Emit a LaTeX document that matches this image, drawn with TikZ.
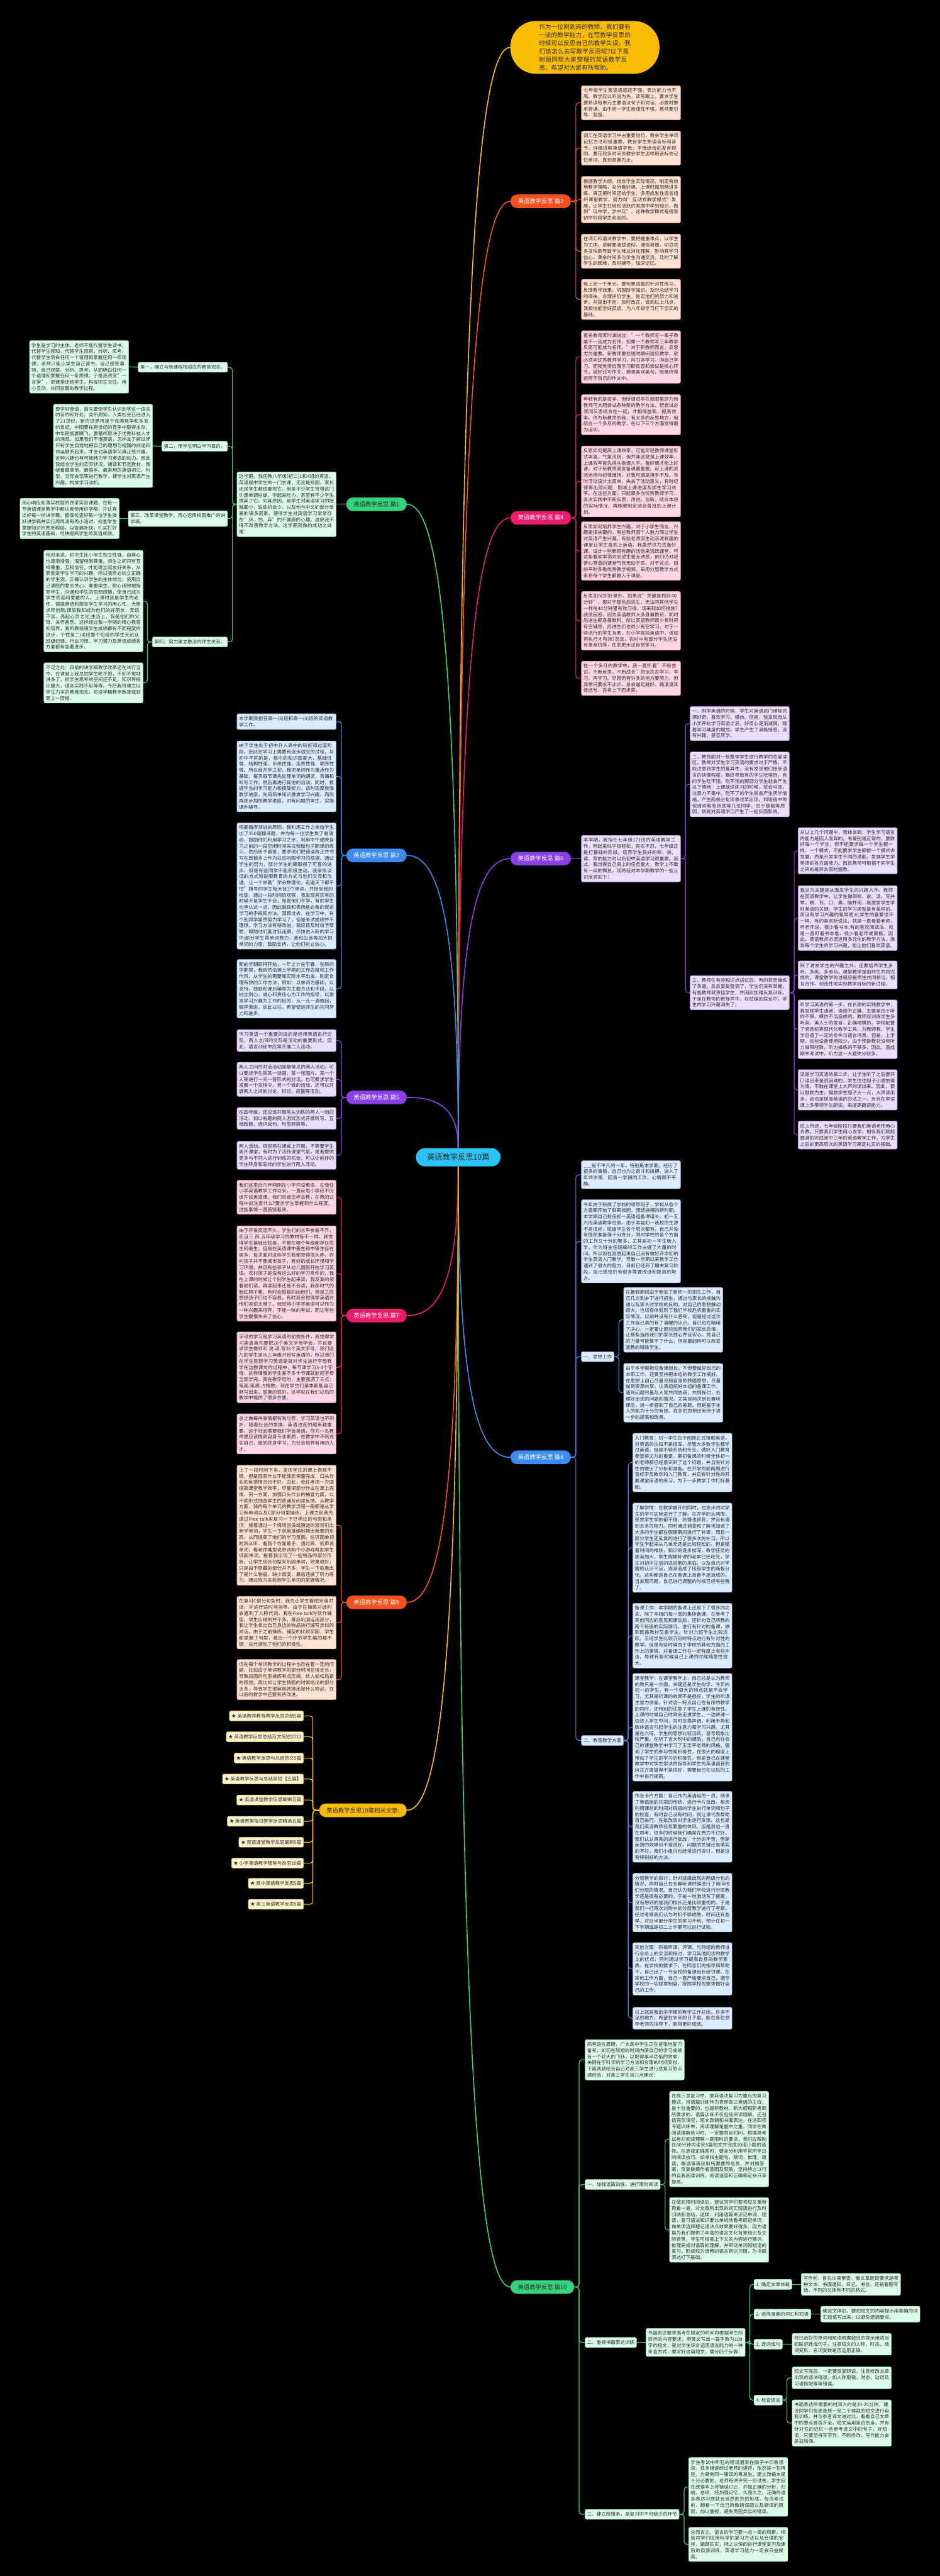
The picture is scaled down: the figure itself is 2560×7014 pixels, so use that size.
\documentclass[tikz,border=0pt]{standalone}
\usepackage{fontspec}
\setmainfont{Noto Sans CJK SC}
\usetikzlibrary{calc}
\XeTeXlinebreaklocale "zh"
\XeTeXlinebreakskip=0pt plus 1pt
\definecolor{cO}{HTML}{F4511E}
\definecolor{cP}{HTML}{EC1C6A}
\definecolor{cV}{HTML}{8A3FE8}
\definecolor{cB}{HTML}{3B8BF0}
\definecolor{cG}{HTML}{35D27E}
\definecolor{cY}{HTML}{FBBC05}
\definecolor{cC}{HTML}{2BC3F3}
\definecolor{fO}{HTML}{FFE2D4}\definecolor{dO}{HTML}{F3A27E}
\definecolor{fP}{HTML}{FFD6E6}\definecolor{dP}{HTML}{F08CB5}
\definecolor{fV}{HTML}{E9DFFC}\definecolor{dV}{HTML}{B79AF0}
\definecolor{fB}{HTML}{DCEBFE}\definecolor{dB}{HTML}{92BDF5}
\definecolor{fG}{HTML}{DDFBEA}\definecolor{dG}{HTML}{8FE6B5}
\definecolor{fY}{HTML}{FFF4CF}\definecolor{dY}{HTML}{F2CD5C}
\definecolor{txt}{HTML}{2B2B2B}
\newcommand\boxfont{\fontsize{6.45pt}{8.35pt}\selectfont}
\newcommand\brfont{\fontsize{8pt}{9.6pt}\selectfont}
\newcommand\brlink[3]{\draw[main=#1] (#2) .. controls ($(#2)!0.6!(#2-|#3)$) and ($(#3)!0.8!(#3|-#2)$) .. (#3);}
\tikzset{
  bx/.style={rounded corners=2pt, inner xsep=2.75pt, inner ysep=3.5pt, text width=129.5pt, align=left, font=\boxfont, text=txt, line width=0.5pt, anchor=north west},
  bO/.style={bx, fill=fO, draw=dO}, bP/.style={bx, fill=fP, draw=dP},
  bV/.style={bx, fill=fV, draw=dV}, bB/.style={bx, fill=fB, draw=dB},
  bG/.style={bx, fill=fG, draw=dG},
  lb/.style={rounded corners=2pt, inner xsep=2.75pt, inner ysep=3.5pt, minimum height=13.5pt, font=\boxfont, text=txt, line width=0.5pt, anchor=west},
  lB/.style={lb, fill=fB, draw=dB}, lG/.style={lb, fill=fG, draw=dG},
  lY/.style={lb, fill=fY, draw=dY, anchor=east},
  brn/.style={rounded corners=9pt, minimum height=18.5pt, inner xsep=10pt, font=\brfont, text=white},
  link/.style={draw=#1, line width=1pt, rounded corners=4pt},
  main/.style={draw=#1, line width=1.4pt},
}
\begin{document}
\begin{tikzpicture}[x=0.5pt,y=-0.5pt]
\path[fill=black,use as bounding box] (0,0) rectangle (2560,7014);

% centre
\node[fill=cC, rounded corners=12.5pt, minimum height=25pt, inner xsep=15pt, font=\fontsize{10.5pt}{12pt}\selectfont, text=txt] (cen) at (1248,3151) {英语教学反思10篇};

% intro bubble
\node[fill=cY, rounded corners=35pt, text width=125pt, inner xsep=39pt, inner ysep=4pt, align=left, font=\fontsize{8.3pt}{11.2pt}\selectfont, text=txt] (intro) at (1593,129) {作为一位刚到岗的教师，我们要有一流的教学能力，在写教学反思的时候可以反思自己的教学失误，我们该怎么去写教学反思呢?以下是树图网帮大家整理的英语教学反思，希望对大家有所帮助。};

% branch nodes
\node[brn, fill=cO, anchor=west] (p2) at (1390,548) {英语教学反思 篇2};
\node[brn, fill=cP, anchor=west] (p4) at (1390,1410) {英语教学反思 篇4};
\node[brn, fill=cV, anchor=west] (p6) at (1390,2338) {英语教学反思 篇6};
\node[brn, fill=cB, anchor=west] (p8) at (1390,3968) {英语教学反思 篇8};
\node[brn, fill=cG, anchor=west, text=txt] (p10) at (1390,6227) {英语教学反思 篇10};
\node[brn, fill=cG, anchor=east, text=txt] (p1) at (1108,1373) {英语教学反思 篇1};
\node[brn, fill=cB, anchor=east] (p3) at (1108,2329) {英语教学反思 篇3};
\node[brn, fill=cV, anchor=east] (p5) at (1108,2988) {英语教学反思 篇5};
\node[brn, fill=cP, anchor=east] (p7) at (1108,3582) {英语教学反思 篇7};
\node[brn, fill=cO, anchor=east] (p9) at (1108,4363) {英语教学反思 篇9};
\node[brn, fill=cY, anchor=east, text=txt] (rel) at (1108,4929) {英语教学反思10篇相关文章:};

% main connectors
\brlink{cY}{intro.west}{cen.north}
\brlink{cO}{p2.west}{cen.north}
\brlink{cP}{p4.west}{cen.north}
\brlink{cV}{p6.west}{cen.north}
\brlink{cG}{p1.east}{cen.north}
\brlink{cB}{p3.east}{cen.north}
\brlink{cV}{p5.east}{cen.north}
\brlink{cB}{p8.west}{cen.south}
\brlink{cG}{p10.west}{cen.south}
\brlink{cP}{p7.east}{cen.south}
\brlink{cO}{p9.east}{cen.south}
\brlink{cY}{rel.east}{cen.south}

% ---------- 篇2
\node[bO] (b2a) at (1583,233) {七年级学生英语语感还不强，表达能力也不高。教学应以听说为先，读写跟上。要求学生要熟读每单元主要语法句子和对话，必要时要求背诵。由于初一学生自律性不强，教师要引导、监督。};
\node[bO] (b2b) at (1583,356) {词汇在英语学习中占重要地位，教会学生单词记忆方法积极重要，教会学生熟读音标和音节，详细讲解英语字母、字母组合的发音规则，要花较多时间去教会学生怎样用音标去记忆单词，直到掌握为止。};
\node[bO] (b2c) at (1583,480) {根据教学大纲，结合学生实际情况，制定有效地教学策略，充分备好课。上课时做到精讲多练，真正把时间还给学生，多用启发性语言组织课堂教学，努力向"互动式教学模式"发展，让学生在轻松活跃的氛围中学到知识，做到"玩中学，学中玩"，这种教学模式是很受初中阶段学生欢迎的。};
\node[bO] (b2d) at (1583,637) {在词汇和语法教学中，要把握重难点，以学生为主体。讲解要清楚透彻，通俗易懂，切忌贪多贪快而导致学生难以消化理解，影响其学习信心。课余时间多与学生沟通交流，及时了解学生的困难，及时辅导，加深记忆。};
\node[bO] (b2e) at (1583,760) {每上完一个单元，要布置适量的针对性练习，反馈教学效果，巩固所学知识。及时总结学习的得失，合理评价学生，肯定他们的努力和进步，并提出不足，及时改正。做到以上几点，我相信能学好英语，为八年级学习打下坚实的基础。};
\foreach \c in {b2a,b2b,b2c,b2d,b2e} \draw[link=cO] (p2.east) -- ++(13,0) |- (\c.west);

% ---------- 篇4
\node[bP] (b4a) at (1583,900) {著名教育家叶澜说过："一个教师写一辈子教案不一定成为名师，如果一个教师写三年教学反思可能成为名师。"对于新教师而言，反思尤为重要。新教师要在短时期间适应教学，就必须向优秀教师学习，向书本学习，向自己学习。而我觉得自我学习即反思和尝试是核心环节，就好比写作文，摘录美词美句，但最终得运用于自己的作文中。};
\node[bP] (b4b) at (1583,1074) {年轻有的是资本，但所谓资本在我眼里即为新教师可大胆尝试各种新的教学方法，但尝试必须同反思结合在一起，才相得益彰，提高效率。作为新教师的我，有太多的反思地方，但结合一个多月的教学，在以下三个方面觉得最为迫切。};
\node[bP] (b4c) at (1583,1214) {反思如何提高上课效率，可能年轻教师课堂形式丰富，气氛活跃，但并非这就是上课效率。上课效率首先得从备课入手。备好课才能上好课。对于新教师而言备课最重要。可上课的灵活运用与纪律维持，对我可谓是措手不及。有时活动设计太简单，失去了活动意义，有时纪律等出现问题，影响上课进度及学生学习效率。在这些方面，只能靠多向优秀教师学习，多次实践中不断反思，改进，创新，结合本班的实际情况，再琢磨制定适合各班的上课计划。};
\node[bP] (b4d) at (1583,1420) {反思如何培养学生兴趣，对于小学生而言，兴趣是很关键的。有些教师因个人魅力而让学生对英语产生兴趣，有些老师因生动活泼有趣的课堂让学生喜欢上英语。我虽然尽力去备好课，设计一些新颖有趣的活动来活跃课堂，可这些看家本领对后进生毫无诱惑，他们仍对我苦心营造的课堂气氛无动于衷。对于这点，目前平时多看优秀教学视频，采用分层教学方式来将每个学生都融入于课堂。};
\node[bP] (b4e) at (1583,1610) {反思如何抓好课外。如果说"关键是抓好40分钟"，那对于那些后进生，无法同其他学生一样在40分钟里有效习得，该采取如何措施?我很困惑，因为英语教师大多身兼数班，同时后进生都身兼数科，所以英语教师很少有时间有空辅导，后进生们也很少有空学习。对于一些流行的学生互助，在小学高段英语中，该如何执行才有效?况且，农村中有部分学生还没有录音机等，在家更无法自觉学习。};
\node[bP] (b4f) at (1583,1800) {在一个多月的教学中，我一直怀着"不断尝试，不断反思，不断成长"的信念去学习，学习，再学习。尽管仍有许多的地方要努力，但我想只要永不止步，总会越走越好。路漫漫其修远兮，吾将上下而求索。};
\foreach \c in {b4a,b4b,b4c,b4d,b4e,b4f} \draw[link=cP] (p4.east) -- ++(13,0) |- (\c.west);

% ---------- 篇6
\node[bV, anchor=west] (b6) at (1583,2338) {本学期，我担任七年级171班的英语教学工作，听起来似乎很轻松，其实不然，七年级正是打基础的阶段，培养学生良好的听、说、读、写的能力对以后初中英语学习很重要。因此，我觉得自己肩上的任务重大，教学上不敢有一丝的懈怠。现将我对本学期教学的一些认识反思如下：};
\draw[link=cV] (p6.east) -- (b6.west);
\node[bV] (b6a) at (1879,1923) {一、刚学英语的时候，学生对英语这门课程充满好奇，喜欢学习、模仿。但是，我发现自从小学开始学习英语之后，好奇心逐渐减弱。随着学习难度的增加，学生产生了消极情感，没有兴趣，甚至厌学。};
\node[bV] (b6b) at (1879,2047) {二、教师面对一些整体学生进行教学的态度误区。教师对学生学习英语的要求过于严格，不能注意到学生的差异性，没有发现他们接受语言的快慢程度，最终导致有的学生吃得饱，有的学生吃不饱。吃不饱的那部分学生就会产生以下情绪：上课或讲练习的时候，就会马虎，注意力不集中。吃不了的学生就会产生厌学情绪，产生两极分化现象过早出现。如班级中的倪清欢和陈跃虎等几位同学，由于基础等原因，就是对英语学习产生了一些负面影响。};
\node[bV] (b6c) at (1879,2656) {三、教师在有些知识点讲过后，有的甚至操练了多遍，反反复复强调了，学生仍没有掌握。有些教师就责怪学生，并因此加强反复训练。于是在教师的责怪声中，在枯燥的联系中，学生的学习兴趣消失了。};
\foreach \c in {b6a,b6b,b6c} \draw[link=cV] (b6.east) -- ++(13,0) |- (\c.west);
\node[bV] (b6c1) at (2173,2253) {从以上几个问题中，我体会到：学生学习语言的能力是因人而异的。有差别是正常的，要教好每一个学生，但不能要求每一个学生都一样、一个模式，不能要求学生都按一个模式去发展，而是开发学生不同的潜能，发展学生学英语的各方面能力。而且教师可根据不同学生之间的差异去因材施教。};
\node[bV] (b6c2) at (2173,2411) {我认为关键是从激发学生的兴趣入手。教师在英语教学中，让学生做到听、说、读、写并举，眼、耳、口、鼻、脑并用，是激发学生学好英语的关键。学生的学习类型是有差异的。而没有学习兴趣的差异更大;学生的喜爱也不一样，有的喜欢听说法，就是一直看着老师，听老师说，很少看书本;有的喜欢阅读法，就是一直盯着书本看，很少看老师或黑板。因此，英语教师必须运用多元化的教学方法，激发每个学生的学习兴趣，能让他们喜欢英语。};
\node[bV] (b6c3) at (2173,2616) {除了激发学生的兴趣之外，还要培养学生多听、多练、多参与。课堂教学是由师生共同完成的，课堂教学的过程应是师生共同参与，相互合作，创造性地实现教学目标的新过程。};
\node[bV] (b6c4) at (2173,2722) {听学习英语的第一步。在长期的实践教学中，我发现学生语音、语调不正确，主要是由于听的不够、模仿不当造成的。教师应训练学生多听英、美人士的发音，正确地模仿。学校配置了录音机等现代化教学工具，为教师教、学生学创造了一定的条件与语言场景。但是，上学期，这些设备使用较少，由于预备教材没有听力磁带所致，听力操练的不够多，因此，造成期末考试中，听力这一大题失分较多。};
\node[bV] (b6c5) at (2173,2912) {读是学习英语的第二步。让学生听了之后要开口读出来是很困难的，学生往往胆子小或怕难为情，不敢在课堂上大声的读出来。因此，要以鼓励为主，鼓励学生胆子大一点，大声读出来，这也是提高英语的办法之一。另外在早读课上多带领学生朗读，来提高朗读能力。};
\node[bV] (b6c6) at (2173,3052) {综上所述，七年级阶段只要我们英语老师用心去教，只要我们学生用心去学，相信我们就能圆满的完成初中三年的英语教学工作，为学生之后的更高层次的英语学习奠定扎实的基础。};
\foreach \c in {b6c1,b6c2,b6c3,b6c4,b6c5,b6c6} \draw[link=cV] (b6c.east) -- ++(13,0) |- (\c.west);

% ---------- 篇8
\node[bB] (b8a) at (1583,3160) {\_\_\_是不平凡的一年，特别是本学期，经历了很多的事情，自己也为之奋斗和拼搏。进入了年终岁尾，回首一学期的工作，心情颇不平静。};
\node[bB] (b8b) at (1583,3266) {今年由于新换了学校的领导班子，学校从各个方面都开始了卧薪尝胆，团结拼搏的新时期。本学期自己担任初一英语组备课组长，初一五六班英语教学任务。由于本届初一我校的生源不是很好，班级学生各个层次都有，自己并没有提前准备得十分充分，同时学校的各个方面的工作又十分的繁多，尤其是初一学生新入学，作为班主任班级的工作占据了大量的时间。所以现在回想起来自己没有做好开学初的学生英语入门教学。导致一学期以来教学工作遇到了很大的阻力，目前已经到了期末复习阶段，自己感觉仍有很多需要改进和提高的地方。};
\node[lB] (b8c) at (1583,3694) {一、思想工作};
\node[lB] (b8d) at (1583,4739) {二、教育教学方面};
\foreach \c in {b8a,b8b,b8c,b8d} \draw[link=cB] (p8.east) -- ++(13,0) |- (\c.west);
\node[bB] (b8c1) at (1698,3505) {在暑假期间由于参加了新初一的招生工作，自己几次到乡下进行招生，通过与家长的接触沟通以及家长对学校的反响，对自己的思想触动很大，也切身体验到了我们学校危机重重的实际情况。以前并没有什么感受，但是经过这次工作自己真的有了清醒的认识。自己也在暗暗下决心，一定要让那些抛弃我们的家长后悔，让那些选择我们的家长放心并且安心。凭自己的力量可能算不了什么，但是最起码可以改变我教的班级学生。};
\node[bB] (b8c2) at (1698,3712) {由于本学期担任备课组长，不但要做好自己的本职工作，还要坚持把本组的教学工作搞好。在思想上自己尽量克服自身的狭隘思想，尽量做到资源共享，认真组织好本组的备课工作。遇到问题尽量与大家共同协商，共同探讨，处理好出现的问题和情况。尤其是两次到长春听课后，进一步感到了自己的差距。但是鉴于本人的能力十分的有限，很多的思想还有待于进一步的提高和改善。};
\foreach \c in {b8c1,b8c2} \draw[link=cB] (b8c.east) -- ++(13,0) |- (\c.west);
\node[bB] (b8d1) at (1723,3902) {入门教育：初一学生由于刚刚正式接触英语，对英语的认知不是很深，尽管大多数学生都学过英语，但是不够系统和专业。做好入门教育便显得尤为的重要。期初备课的时候全体初一的老师都已经意识到了这个问题，并且有针对性的做出了分析和准备。在开学的前两周进行音标字母教学和入门教育，并且有针对性的开展课堂用语的练习，为下一步教学工作打好基础。};
\node[bB] (b8d2) at (1723,4092) {了解学情：在教学展开的同时，也逐步的对学生的学习实际进行了了解。在开学的头两周，感觉学生学的都不错，热情也很高，并没有遇到太多的阻力。同时通过调查和了解也知道了大多的学生都在假期期间进行了补课，而且一部分学生还反复的进行了很多次的补习，所以学生学起来头几单元还是比较轻松的。但是随着时间的推移，知识的逐步加深，教学任务的逐渐加大，学生假期补课的老本已经吃光，学生对初中生活的适应期的来临，以及自己对学情的认识不足，逐渐造成了班级学生的两极分化。这些都是自己在备课上准备不足造成的，当发现问题，自己进行调整的时候已经有些晚了。};
\node[bB] (b8d3) at (1723,4365) {备课工作：本学期的备课上还是下了很多的功夫，除了本组的每一周的集体备课，在参考了其他同志的意见和建议后，还针对自己所教的两个班级的实际情况，进行有针对的备课，做到既备教材又备学生。针对六班学生比较活跃，五班学生比较沉闷的特点进行有针对性的教学。但是有些时候由于学校的其他方面的工作上的事情，对备课工作在一定程度上有些冲击，导致有些时候自己上课的时候随意性很大。};
\node[bB] (b8d4) at (1723,4556) {课堂教学：在课堂教学上，自己总是认为教师的教只是一方面，关键还是学生的学。今年的初一的学生，有一个很大的特点就是不会学习，尤其是听课的效果不是很好，学生的听课注意力很差。针对这一特点自己在有序的教学的同时，还特别的注意了学生上课的有效性。上课的时候自己时常会走进学生，一边讲课一边进入学生中间，同时变换声调，利用手势和肢体语言引起学生的注意力和学习兴趣，尤其是在六班，学生的思想比较活跃，溜号现象比较严重。在听了吉大附中的课后，自己也在自己的课堂教学中学习了王忠平老师的风格，强调了学生的参与性和积极性，在很大的程度上带动了学生的学习的积极性。但是自己在课堂教学中对学生学法的指导和学生的英语语音的纠正方面做得不是很好，需要自己在以后的工作中进行提高。};
\node[bB] (b8d5) at (1723,4877) {作业卡片方面：自己作为英语组的一员，继承了英语组的共荣的传统，进行卡片批改。每天利用课前的时间对班级的学生进行单词和句子的检查，有时自己没有时间，就让课代表帮助自己进行，在批改后对学生进行反馈。这也是我们英语教师任务繁重的体现。但是我也一直在思考，很多的时候我们确是在费力不讨好，我们认认真真的进行批改，十分的辛苦，但是反馈的效果却不是很好。问题的关键还是落实的不好，我们小组内也经常进行探讨，但是没有特别好的方法。};
\node[bB] (b8d6) at (1723,5100) {分层教学的探讨：针对班级出现的两级分化的情况，同时自己在长春听课时候进行了询问他们分层的情况。自己认为我们学校进行分层教学还是很有必要的，于是一时激动写了提案，没有想到的是我们校长还是比较重视的。于是我们一行再次对附中的分层教学进行了考察，经过考察我们认为时机不够成熟，时间还有些早，对后半部分学生的学习不利，预计在初一下学期或是初二上学期可以进行试验。};
\node[bB] (b8d7) at (1723,5289) {其他方面：积极听课，评课。与同组的教师进行业务上的交流和探讨，学习其他同志的教学上的优点，同时通过学习提高自身的教学素质。在学校的要求下，在同志们的指导和帮助下，自己出了一节全校的备课组长研讨课。在其他工作方面，自己一直严格要求自己，遵守学校的一切规章制度，按照学校的要求做好自己的工作。};
\node[bB] (b8d8) at (1723,5465) {以上就是我的本学期的教学工作总结。许多不足的地方，希望在未来的日子里，能在各位领导老师的指导下，取得更好成绩。};
\foreach \c in {b8d1,b8d2,b8d3,b8d4,b8d5,b8d6,b8d7,b8d8} \draw[link=cB] (b8d.east) -- ++(13,0) |- (\c.west);

% ---------- 篇10
\node[bG] (b10a) at (1593,5553) {高考迫在眉睫，广大高中学生正在紧张地复习备考，如何在较短的时间内使自己的学习成绩有一个较大的飞跃，以取得事半功倍的效果，关键在于科学的学习方法和合理的时间安排，下面我就结合自己对高三学生进行总复习的点滴经验，对高三学生谈几点建议：};
\node[lG] (b10b) at (1593,5948) {一、加强语篇训练，进行限时阅读};
\node[lG] (b10c) at (1593,6378) {二、重视书面表达训练};
\node[lG] (b10d) at (1593,6846) {三、建立改错本，是复习中不可缺少的环节};
\foreach \c in {b10a,b10b,b10c,b10d} \draw[link=cG] (p10.east) -- ++(13,0) |- (\c.west);
\node[bG] (b10b1) at (1823,5694) {在高三总复习中，放弃语法复习为重点的复习模式，将语篇训练作为贯穿高三英语的主线，是十分重要的，也是新教材、新大纲和新考纲所要求的。语篇训练不仅包括阅读理解，还包括完型填空，短文改错和书面表达。在这四项专题训练中，阅读理解是重中之重，同学在做阅读理解练习时，一定要限定时间，根据高考试卷对阅读理解一题限时的要求，我们应限制在40分钟内读完5篇短文并完成20道小题的选择。在选择正确答时，要充分利用平常所学过的阅读技巧。如寻找主题句，猜词，推理，跳读，略读等等获取所需要的信息，并对照答案，反复揣摸作者意图及思路，坚持持之以行的自我阅读训练，阅读速度和正确率定会日渐提高。};
\node[bG] (b10b2) at (1823,5983) {在做完限时阅读后，建议同学们要将短文重新再看一遍，对文章所出现的词汇短语进行及时归纳和总结。这样，利用语篇来识记单词、短语，复习语法知识要比单纯地看考纲记单词，做单项选择题记语法点效果要好得多。因为语篇为我们提供了丰富的语言文化背景知识及交际背景，学生可根据上下文的内容进行猜词，推理完成对语篇的理解，并带动单词和短语的复习，形成较为流畅的语言表达习惯，为书面表达打下基础。};
\foreach \c in {b10b1,b10b2} \draw[link=cG] (b10b.east) -- ++(13,0) |- (\c.west);
\node[bG, anchor=west] (b10c1) at (1759,6378) {书面表达要求高考在限定的时间内根据考生所提示的内容要求，用英文写出一篇字数为100字的短文，是对学生综合运用语言能力的一种考查方式，要写好这篇短文，需分四个步骤：};
\draw[link=cG] (b10c.east) -- (b10c1.west);
\node[lG] (s1) at (2053,6220) {1. 确定文章体裁};
\node[lG] (s2) at (2053,6301) {2. 选择准确的词汇和短语};
\node[lG] (s3) at (2053,6383) {3. 连词成句};
\node[lG] (s4) at (2053,6535) {4. 检查语言};
\foreach \c in {s1,s2,s3,s4} \draw[link=cG] (b10c1.east) -- ++(12,0) |- (\c.west);
\node[bG, anchor=west] (s1a) at (2182,6220) {写作前，首先认真审查，看文章题目要求是哪种文体，书面通知，日记，书信，还是看图写话，不同的文体有不同的格式。};
\node[bG, anchor=west] (s2a) at (2235,6301) {确定文体后，要把短文的内容提示用准确的词汇短语写出来，以避免遗漏要点。};
\node[bG, anchor=west] (s3a) at (2157,6383) {将已选好的单词和短语根据题目的提示用适当的联词连成句子，注意短文的人称、时态、动词变形、名词复数是否运用正确。};
\draw[link=cG] (s1.east) -- (s1a.west);
\draw[link=cG] (s2.east) -- (s2a.west);
\draw[link=cG] (s3.east) -- (s3a.west);
\node[bG] (s4a) at (2157,6444) {短文写完后，一定要反复研读，注意修改文章出现的语法错误，如人称用错，时态，动词及习语搭配等等错误。};
\node[bG] (s4b) at (2157,6534) {书面表达所需要的时间大约是20-25分钟，建设同学们每周选择一至二个体裁的短文进行自我训练，并与参考译文进对比，看看自己文章中的要点是否齐全，短文运用是否恰当，并有针对性的记忆一些参考译文中的句子，好短语，只要坚持写字作，不断修改，写作能力会是益加强。};
\foreach \c in {s4a,s4b} \draw[link=cG] (s4.east) -- ++(12,0) |- (\c.west);
\node[bG] (b10d1) at (1875,6691) {学生考试中所犯的错误通常在脑子中印象很深，很多错误经过老师的讲评，依然是一犯再犯，为避免同一错误的再发生，建立改错本是十分必要的，老师每讲评完一份试卷，学生应在改错本上将错误订正，并做正确的分析，归纳，总结，经加强记忆，久而久之，正确的语言表达习惯就会自然而然的形成，每次考试前，翻看一下自己所做错误题以及错误的原因，加以重视，避免再犯类似的错误。};
\node[bG] (b10d2) at (1875,6881) {总而言之，语言的学习要一点一滴的积累，相信同学们应用科学的复习方法以及合理的安排，踏踏实实，持之以恒的进行课堂复习及课后的自我训练，英语学习能力一定会日益提高。};
\foreach \c in {b10d1,b10d2} \draw[link=cG] (b10d.east) -- ++(13,0) |- (\c.west);

% ---------- 篇1
\node[bG, anchor=west] (b1) at (645,1373) {这学期，我任教八年级(初二)1和4班的英语。英语是中学生的一门主课，无论是校园、家长还是学生都很重视它，但是不少学生觉得这门功课单调枯燥，学起来吃力，甚至有不少学生放弃了它。究其原因，是学生对英语学习的接触面小，说练机会少，以及他与中文的部分反差的诸多因素，使得学生对英语学习常常存在"厌、怕、弃"的不健康的心理。这使我不得不改善教学方法。这学期我做的成功之处是：};
\draw[link=cG] (p1.west) -- (b1.east);
\node[lG, anchor=east] (f1) at (620,1000) {第一，确立与新课程相适应的教育观念。};
\node[lG, anchor=east] (f2) at (620,1215) {第二，使学生明白学习目的。};
\node[bG, anchor=east] (f3) at (620,1412) {第三，改革课堂教学，用心运用校园推广的讲学稿。};
\node[lG, anchor=east] (f4) at (620,1748) {第四，努力建立融洽的师生关系。};
\foreach \c in {f1,f2,f3,f4} \draw[link=cG] (b1.west) -- ++(-12,0) |- (\c.east);
\node[bG, anchor=east] (f1a) at (351,999) {学生是学习的主体，老师不能代替学生读书，代替学生感知，代替学生观察、分析、思考，代替学生明白任何一个道理和掌握任何一条规律。老师只能让学生自己读书，自己感受事物，自己观察、分析、思考，从而明白任何一个道理和掌握任何一条规律。于是我改变"一言堂"，把课堂还给学生，构成师生交往、用心互动、共同发展的教学过程。};
\node[bG, anchor=east] (f2a) at (416,1214) {要学好英语，首先要使学生认识到学这一语言的目的和好处。众所周知，人类社会已经进入了21世纪，新的世界将是个充满竞争和多变的世纪，中国要在跨世纪的竞争中取得主动，中华民族要腾飞，要最终取决于优秀科技人才的涌现。如果我们不懂英语，怎样去了解世界只有学生自觉地把自己的理想与祖国的前途和命运联系起来，才会对英语学习真正感兴趣，这种兴趣也有可能转为学习英语的动力。因此我结合学生的实际状况，通读和节选教材，围绕着最简单、最基本、最常用的英语词汇、句型、交际会话等进行教学，使学生对英语产生兴趣，构成学习动机。};
\node[bG, anchor=east] (f3a) at (325,1412) {用心响应和落实校园的改革实验课题，在每一节英语课堂教学中都认真使用讲学稿，并认真出好每一份讲学稿，督促检查好每一位学生做好讲学稿并实行周周清每周小测试，检查学生掌握知识的熟悉程度，以查漏补缺，扎实打好学生的英语基础，尽快提高学生的英语成绩。};
\draw[link=cG] (f1.west) -- (f1a.east);
\draw[link=cG] (f2.west) -- (f2a.east);
\draw[link=cG] (f3.west) -- (f3a.east);
\node[bG, anchor=north east] (f4a) at (390,1498) {相对来说，初中生比小学生独立性强，自尊心也逐渐增强，渴望得到尊重。师生之间只有互相尊重，互相信任，才能建立起友好关系，从而促进学生学习的兴趣。所以我务必树立正确的学生观，正确认识学生的主体地位。我用自己满腔的爱去关心、尊重学生，耐心细致地指导学生，沟通和学生的思想感情，使自己成为学生欢迎和爱戴的人。上课时我是学生的老师，循循善诱和激发学生学习的用心性，大胆求异创新;课后我却成为他们的好朋友，无话不谈，亮起心灵之光;生活上，我是他们的父母，关怀备至。这样经过我一学期的精心教育和培养，我所教班级学生成绩都有不同程度的进步，个性是二(4)班整个班级的学生无论从班级纪律、行业习惯、学习潜力及英语成绩各方面都有显著进步、};
\node[bG, anchor=north east] (f4b) at (390,1804) {不足之处：目前的讲学稿教学改革还在试行当中，在课堂上我总怕学生吃不饱，不知不觉地讲多了，给学生思考的空间还不足，知识传授比重大，语言实践不足等等。今后我将建立以学生为本的教育观念，将讲学稿教学改革做到更上一层楼。};
\foreach \c in {f4a,f4b} \draw[link=cG] (f4.west) -- ++(-13,0) |- (\c.east);

% ---------- 篇3
\node[bB] (b3a) at (645,1943) {本学期我担任高一(3)班和高一(4)班的英语教学工作。};
\node[bB] (b3b) at (645,2017) {由于学生处于初中升入高中的转折和过度阶段，因此在学习上需要有逐步适应的过程，与初中不同的是，高中的知识密度大，基础性强，结构性强，系统性强，连贯性强，顺序性强。所以自开学之初，我把单词作为重点作为基础，每天每节课先处理单词的朗读，背诵和听写工作，然后再进行其他的活动。同时，根据学生的学习能力和接受能力，适时适度放慢教学进度，先用简单知识激发学习兴趣，而后再逐步加快教学进度，对有问题的学生，实施课外辅导。};
\node[bB] (b3c) at (645,2240) {根据循序渐进的原则，我利用工作之余给学生出了350道翻译题，并为每一位学生发了邀请函，鼓励他们利用学习之余，利用中午或晚自习之前的一段空闲时间来找我做句子翻译的练习，然后给予面批，要求他们把错误改正并书写在改错本上作为以后巩固学习的根据。通过学生的努力，部分学生的确取得了可喜的进步。但是有些同学不能积极主动，我采取谈话的方式和说服教育的方式与他们交流和沟通，让一个举着"学会数理化，走遍天下都不怕"旗号的学生每天背3个单词，并接受我的检查。通过一段时间的观察，我发现其实有的时候不是学生不会，而是他们不学，有的学生也承认这一点，因此鼓励和表扬是必备的促进学习的手段和方法。回顾过去，在学习中，有个别同学虽然努力学习了，但是考试成绩并不理想，学习方法有待改进，我应该及时给予帮助，帮助他们度过低迷期，尽快进入新的学习中;部分学生背单词费力，我也应该再加大抓单词的力度，鼓励支持，让他们树立信心。};
\node[bB] (b3d) at (645,2612) {新的学期即将开始，一年之计在于春，在新的学期里，我依然沿袭上学期的工作态度和工作作风，从学生的需要和实际水平出发，制定合理有效的工作方法，例如：以单词为基础，以支持、鼓励和课后辅导为主要方法和手段，以树立耐心，诚心和责任心为工作的指导，以激发学习兴趣为工作的目的，从一点一滴做起，循序渐进，长此以往，希望促进师生的共同努力和进步。};
\foreach \c in {b3a,b3b,b3c,b3d} \draw[link=cB] (p3.west) -- ++(-13,0) |- (\c.east);

% ---------- 篇5
\node[bV] (b5a) at (645,2803) {学习英语一个重要的目的是运用英语进行交际，两人之间的交际是活动的重要形式，因此，语言训练中应常开展二人活动。};
\node[bV] (b5b) at (645,2892) {两人之间的对话活动是最常见的两人活动。可以要求学生就某一话题、某一张图片、某一个人等进行一问一答形式的对话，也可要求学生发展一个发指令，另一个做的活动，还可以开展两人之间的讨论、辩论、商量等活动。};
\node[bV] (b5c) at (645,3015) {在四年级，还应该开展笔头训练的两人一组的活动，如以有趣的两人游戏形式开展听写、互相改错、连词成句、句型转换等。};
\node[bV] (b5d) at (645,3107) {两人活动，很容易在课桌上开展，不需要学生离开课堂，有时为了活跃课堂气氛，或者提供更多与不同人进行训练的机会，可以让前排的学生转身和后排的学生进行两人活动。};
\foreach \c in {b5a,b5b,b5c,b5d} \draw[link=cV] (p5.west) -- ++(-13,0) |- (\c.east);

% ---------- 篇7
\node[bP] (b7a) at (645,3213) {我们这里近几年刚刚在小学开设英语，在我任小学英语教学工作以来，一直反思小学应不应该开设英语课，我们应该怎样去教，在教的过程中应注意什么?要求学生掌握到什么程度。这些事情一直困饶着我。};
\node[bP] (b7b) at (645,3337) {由于开设英语不久，学生们的水平参差不齐，而且三.四.五年级学习的教材各不一样，我觉得学生基础比较差，不管在哪个年级都存在优生和差生，但是在英语课中差生和中等生存在居多，每次面对这些学生我都觉得很头疼，农村孩子并不像城市孩子，有好的成长环境和学习环境，并且有些孩子从幼儿园就开始学习英语。农村孩子是没有这么好的学习条件的，我在上课的时候让个别学生起来读，我反复的领着他们读，再读起来还是不会读，我那时气的脸红脖子粗，有时会狠狠的凶他们，但是之后想想孩子们也不容易，有时我会觉得学英语对他们来说太难了。我觉得小学学英语可以作为一种兴趣来培养，不能一味的考试，而让有些学生慢慢失去了信心。};
\node[bP] (b7c) at (645,3626) {字母的学习是学习英语的前提条件，我觉得学习英语首先要把26个英文字母学会，并且要求学生做到听.说.读.写26个英文字母，我们这儿的学生是从三年级开始写英语的，所以我们在学生刚刚学习英语是就对学生进行字母教学在边教课文的过程中，每节课学习3-4个字母，这样慢慢的学生差不多十节课就能把字母全部学完。我在教字母时，主要强调了三点：笔画.笔顺.占格数。现在学生们基本都能自己默写出来，掌握的很好，这样就在我们以后的教学中提供了很多方便。};
\node[bP] (b7d) at (645,3849) {总之做每件事情都有利与弊，学习英语也不例外，随着社会的发展，英语也变的越来越重要，这个社会需要我们学会英语，作为一名教师更应该提高自身专业素质，在教学中不断充实自己，做到终身学习，为社会培养有用的人才。};
\foreach \c in {b7a,b7b,b7c,b7d} \draw[link=cP] (p7.west) -- ++(-13,0) |- (\c.east);

% ---------- 篇9
\node[bO] (b9a) at (645,3989) {上了一段时间下来，发现学生的课上表现不错，但是回家作业不能保质保量完成，口头作业的反馈情况也不好。由此，我在考虑一方面提高课堂教学效率，尽量把部分作业在课上完成，另一方面，加强口头作业的抽查力度，以不同形式抽查学生的背诵及阅读反馈。从教学方面，我的每个单元的教学流程一般都是从学习新单词以及C部分句型操练。上课之前我先通过Free talk来复习一下已学过的句型和单词，接着通过一个情境创设或猜谜的游戏引出新学单词，学生一下就能准确地猜出我要的东西，从而提高了他们的学习氛围，在巩固单词时我从听、看两个方面着手，通过高、低声说单词，看老师嘴型说单词两个小游戏帮助学生巩固单词，接着我出现了一些物品的部分形状，让学生结合句型来巩固单词，效果很好，只是由于隐藏的部分并不多，学生一下就看出了是什么物品，缺少难度，最后还做了听力练习，通过练习来检测学生单词的掌握情况。};
\node[bO] (b9b) at (645,4346) {在复习C部分句型时，我先让学生看图来编对话，并进行适时地指导，由于在操练对话时会遇到了人称代词，我在Free talk时就作铺垫，学生出错的并不多，最后巩固运用部分，我让学生拿出自己身边的物品进行编写类似的对话，由于之前操练、铺垫的比较牢固，学生都掌握了句型，最后一个环节学生编的都不错，充分调动了他们的积极性。};
\node[bO] (b9c) at (645,4518) {但在每个单词教学的过程中也存在着一定的问题，比如由于单词教学的部分时间花得太长，导致后面的句型操练有点压缩，给人前松后紧的感觉。再比如让学生猜图的时候给出的部分太多，导致学生很容易就猜出是什么物品，在以后的教学中还要有待改进。};
\foreach \c in {b9a,b9b,b9c} \draw[link=cO] (p9.west) -- ++(-13,0) |- (\c.east);

% ---------- related
\node[lY] (r1) at (827,4672) {★ 英语教师教育教学反思总结5篇};
\node[lY] (r2) at (827,4729) {★ 英语教学反思总结范文简短2021};
\node[lY] (r3) at (827,4787) {★ 英语教学反思与总结范文5篇};
\node[lY] (r4) at (827,4844) {★ 英语教学反思与总结简短【五篇】};
\node[lY] (r5) at (827,4901) {★ 英语课堂教学反思集锦五篇};
\node[lY] (r6) at (827,4959) {★ 英语教案每日教学反思精选五篇};
\node[lY] (r7) at (827,5016) {★ 英语课堂教学反思最新5篇};
\node[lY] (r8) at (827,5073) {★ 小学英语教学随笔与反思10篇};
\node[lY] (r9) at (827,5128) {★ 高中英语教学反思5篇};
\node[lY] (r10) at (827,5185) {★ 高三英语教学反思5篇};
\foreach \c in {r1,r2,r3,r4,r5,r6,r7,r8,r9,r10} \draw[link=cY] (rel.west) -- ++(-17,0) |- (\c.east);
\end{tikzpicture}
\end{document}
